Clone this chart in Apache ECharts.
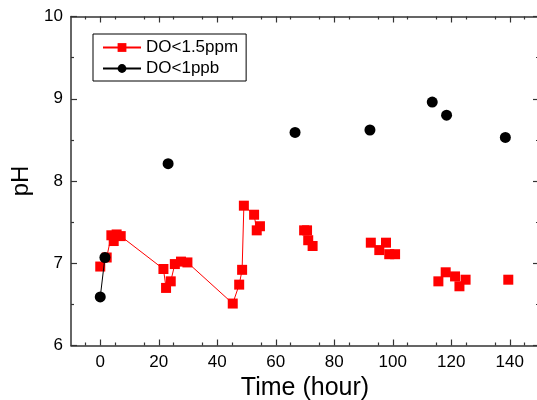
<!DOCTYPE html>
<html><head><meta charset="utf-8">
<script src="https://cdn.jsdelivr.net/npm/echarts@6/dist/echarts.min.js"></script>
<style>html,body{margin:0;padding:0;background:#fff}#c{width:537px;height:400px}</style>
</head><body><div id="c"></div>
<script>
// DO<1.5ppm, connected part (time, pH)
var redLineTime = [0, 2.2, 3.8, 4.6, 5.6, 7.0, 21.6, 22.5, 24.1, 25.5, 27.6, 29.8, 45.3, 47.5, 48.5, 49.1, 52.6, 53.5, 54.6];
var redLinePH   = [6.96, 7.07, 7.34, 7.27, 7.35, 7.33, 6.93, 6.70, 6.78, 6.99, 7.02, 7.01, 6.51, 6.74, 6.92, 7.70, 7.59, 7.40, 7.45];
// DO<1.5ppm, unconnected part
var redDotTime = [69.7, 70.7, 71.1, 72.6, 92.5, 97.7, 95.4, 98.8, 100.8, 115.6, 118.1, 121.3, 122.8, 124.9, 139.5];
var redDotPH   = [7.40, 7.40, 7.28, 7.21, 7.25, 7.25, 7.16, 7.11, 7.11, 6.78, 6.89, 6.84, 6.72, 6.80, 6.80];
// DO<1ppb
var blackLineTime = [0, 1.6];
var blackLinePH   = [6.59, 7.07];
var blackDotTime = [23.2, 66.6, 92.2, 113.5, 118.4, 138.5];
var blackDotPH   = [8.21, 8.59, 8.62, 8.96, 8.80, 8.53];
var xTicks = [0, 20, 40, 60, 80, 100, 120, 140];
var yTicks = [6, 7, 8, 9, 10];

function pairs(a, b) { return a.map(function (v, i) { return [v, b[i]]; }); }

var font = 'Arial, "Liberation Sans", sans-serif';
var axisLine = { show: true, onZero: false, lineStyle: { color: '#333', width: 1.5 } };
function xAx(pos, labels) {
  return {
    type: 'value', position: pos, min: -10, max: 150, interval: 10,
    axisLine: axisLine,
    axisTick: { show: true, inside: true, length: 6, lineStyle: { color: '#333', width: 1.2 },
      customValues: xTicks },
    minorTick: { show: true, splitNumber: 2, length: 3, lineStyle: { color: '#333', width: 1.2 } },
    splitLine: { show: false },
    axisLabel: { show: labels, customValues: xTicks, color: '#000', fontSize: 17, fontFamily: font, margin: 8 },
    name: labels ? 'Time (hour)' : '', nameLocation: 'middle', nameGap: 26,
    nameTextStyle: { color: '#000', fontSize: 25, fontFamily: font }
  };
}
function yAx(pos, labels) {
  return {
    type: 'value', position: pos, min: 6, max: 10, interval: 1,
    axisLine: axisLine,
    axisTick: { show: true, inside: true, length: 6, lineStyle: { color: '#333', width: 1.2 },
      customValues: yTicks },
    minorTick: { show: true, splitNumber: 2, length: 3, lineStyle: { color: '#333', width: 1.2 } },
    splitLine: { show: false },
    axisLabel: { show: labels, customValues: yTicks, color: '#000', fontSize: 17, fontFamily: font, margin: 8 },
    name: labels ? 'pH' : '', nameLocation: 'middle', nameGap: 37,
    nameTextStyle: { color: '#000', fontSize: 24, fontFamily: font }
  };
}

var chart = echarts.init(document.getElementById('c'), null, { renderer: 'canvas' });
chart.setOption({
  animation: false,
  backgroundColor: '#fff',
  grid: { left: 71, top: 16.5, right: -2, bottom: 54.5, containLabel: false, outerBoundsMode: 'none' },
  xAxis: [xAx('bottom', true), xAx('top', false)],
  yAxis: [yAx('left', true), yAx('right', false)],
  legend: {
    data: ['DO<1.5ppm', 'DO<1ppb'], orient: 'vertical', left: 93, top: 34,
    backgroundColor: '#fff', borderColor: '#000', borderWidth: 1,
    padding: [5, 8, 4, 9], itemGap: 4, itemWidth: 38, itemHeight: 11,
    textStyle: { color: '#000', fontSize: 17, fontFamily: font }
  },
  series: [
    { name: 'DO<1.5ppm', type: 'line', data: pairs(redLineTime, redLinePH),
      symbol: 'rect', symbolSize: 10, itemStyle: { color: '#ff0000' },
      lineStyle: { color: '#ff0000', width: 1 }, z: 3 },
    { name: 'red-dots', type: 'scatter', data: pairs(redDotTime, redDotPH),
      symbol: 'rect', symbolSize: 10, itemStyle: { color: '#ff0000', opacity: 1 }, z: 3 },
    { name: 'DO<1ppb', type: 'line', data: pairs(blackLineTime, blackLinePH),
      symbol: 'circle', symbolSize: 11, itemStyle: { color: '#000' },
      lineStyle: { color: '#000', width: 1 }, z: 4 },
    { name: 'black-dots', type: 'scatter', data: pairs(blackDotTime, blackDotPH),
      symbol: 'circle', symbolSize: 11, itemStyle: { color: '#000', opacity: 1 }, z: 4 }
  ]
});
</script></body></html>
